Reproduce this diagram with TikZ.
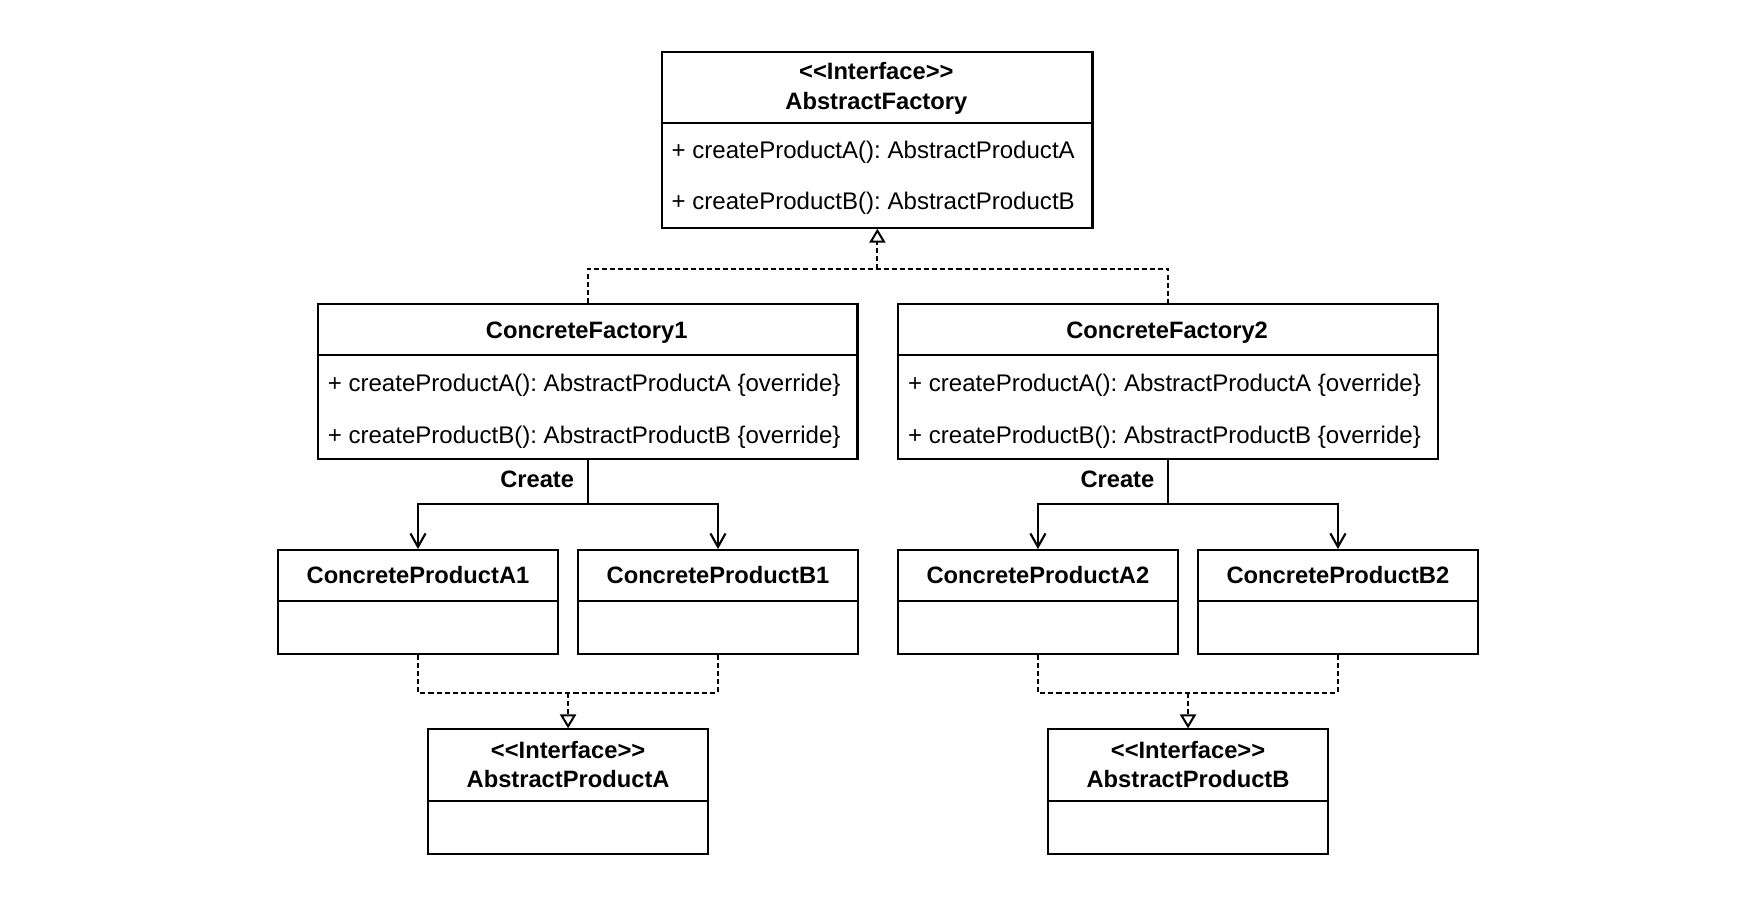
\documentclass[tikz,border=0pt]{standalone}
\usepackage{fontspec}
\newfontfamily\umlfont{Liberation Sans}
\usetikzlibrary{arrows.meta}
\begin{document}
\frenchspacing
\begin{tikzpicture}[x=1pt,y=-1pt,
  umlbox/.style={draw, line width=1.9pt, inner sep=0pt, anchor=north west, fill=white},
  sepline/.style={line width=1.9pt},
  txt/.style={font=\umlfont\fontsize{21.5}{26}\selectfont, inner sep=0pt},
  btxt/.style={txt, font=\umlfont\fontsize{21.2}{26}\selectfont\bfseries},
  methodtxt/.style={txt, anchor=base west},
  titletxt/.style={btxt, anchor=base},
  dashline/.style={line width=1.9pt, dash pattern=on 4.5pt off 2.7pt},
  assoc/.style={line width=1.9pt},
  realtip/.style={-{Triangle[open, length=12.5pt, width=14.5pt, line width=1.8pt]}},
  opentip/.style={-{Straight Barb[length=12pt, width=13.5pt, line width=1.9pt]}}
]
\useasboundingbox[fill=white] (0,0) rectangle (1568,808.1);

% ---------- AbstractFactory ----------
\node[umlbox, minimum width=384.6pt, minimum height=157.3pt] (af) at (591.1,45.3) {};
\draw[sepline] (af.west |- 0,110) -- (af.east |- 0,110);
\node[titletxt] (afs) at (783.4,71.5) {<<Interface>>};
\node[titletxt] (afn) at (783.4,97.7) {AbstractFactory};
\node[methodtxt] (afm1) at (600.3,141.5) {+ createProductA(): AbstractProductA};
\node[methodtxt] (afm2) at (600.3,187.7) {+ createProductB(): AbstractProductB};

% ---------- ConcreteFactory1 ----------
\node[umlbox, minimum width=482.2pt, minimum height=139.1pt] (cf1) at (283.4,270.6) {};
\draw[sepline] (cf1.west |- 0,317.1) -- (cf1.east |- 0,317.1);
\node[titletxt] (cf1n) at (524.5,302.5) {ConcreteFactory1};
\node[methodtxt] (cf1m1) at (292.9,350.2) {+ createProductA(): AbstractProductA \{override\}};
\node[methodtxt] (cf1m2) at (292.9,396.3) {+ createProductB(): AbstractProductB \{override\}};

% ---------- ConcreteFactory2 ----------
\node[umlbox, minimum width=482.2pt, minimum height=139.1pt] (cf2) at (802.2,270.6) {};
\draw[sepline] (cf2.west |- 0,317.1) -- (cf2.east |- 0,317.1);
\node[titletxt] (cf2n) at (1043.3,302.5) {ConcreteFactory2};
\node[methodtxt] (cf2m1) at (811.7,350.2) {+ createProductA(): AbstractProductA \{override\}};
\node[methodtxt] (cf2m2) at (811.7,396.3) {+ createProductB(): AbstractProductB \{override\}};

% ---------- Concrete products ----------
\node[umlbox, minimum width=250.4pt, minimum height=92.7pt] (cpa1) at (247.5,490.8) {};
\draw[sepline] (cpa1.west |- 0,537) -- (cpa1.east |- 0,537);
\node[titletxt] (cpa1n) at (cpa1.center |- 0,521.5) {ConcreteProductA1};

\node[umlbox, minimum width=250.4pt, minimum height=92.7pt] (cpb1) at (515.7,490.8) {};
\draw[sepline] (cpb1.west |- 0,537) -- (cpb1.east |- 0,537);
\node[titletxt] (cpb1n) at (cpb1.center |- 0,521.5) {ConcreteProductB1};

\node[umlbox, minimum width=250.4pt, minimum height=92.7pt] (cpa2) at (801.7,490.8) {};
\draw[sepline] (cpa2.west |- 0,537) -- (cpa2.east |- 0,537);
\node[titletxt] (cpa2n) at (cpa2.center |- 0,521.5) {ConcreteProductA2};

\node[umlbox, minimum width=250.4pt, minimum height=92.7pt] (cpb2) at (1069.9,490.8) {};
\draw[sepline] (cpb2.west |- 0,537) -- (cpb2.east |- 0,537);
\node[titletxt] (cpb2n) at (cpb2.center |- 0,521.5) {ConcreteProductB2};

% ---------- Abstract products ----------
\node[umlbox, minimum width=250.8pt, minimum height=111.2pt] (apa) at (381.5,651.1) {};
\draw[sepline] (apa.west |- 0,715.8) -- (apa.east |- 0,715.8);
\node[titletxt] (apas) at (apa.center |- 0,677.9) {<<Interface>>};
\node[titletxt] (apan) at (apa.center |- 0,703.9) {AbstractProductA};

\node[umlbox, minimum width=250.8pt, minimum height=111.2pt] (apb) at (935.7,651.1) {};
\draw[sepline] (apb.west |- 0,715.8) -- (apb.east |- 0,715.8);
\node[titletxt] (apbs) at (apb.center |- 0,677.9) {<<Interface>>};
\node[titletxt] (apbn) at (apb.center |- 0,703.9) {AbstractProductB};

% ---------- Realization: factories -> AbstractFactory ----------
\coordinate (jaf) at (af.south |- 0,240.2);
\draw[dashline] (cf1.north) |- (jaf) -| (cf2.north);
\draw[dashline, realtip] (jaf) -- (af.south);

% ---------- Create associations ----------
\coordinate (jc1) at (cf1.south |- 0,450.9);
\draw[assoc] (cf1.south) -- (jc1);
\draw[assoc, opentip] (jc1) -| (cpa1.north);
\draw[assoc, opentip] (jc1) -| (cpb1.north);
\node[titletxt, anchor=base east] (create1) at (513.4,435.7) {Create};

\coordinate (jc2) at (cf2.south |- 0,450.9);
\draw[assoc] (cf2.south) -- (jc2);
\draw[assoc, opentip] (jc2) -| (cpa2.north);
\draw[assoc, opentip] (jc2) -| (cpb2.north);
\node[titletxt, anchor=base east] (create2) at (1032.1,435.7) {Create};

% ---------- Realization: products -> abstract products ----------
\coordinate (ja) at (apa.north |- 0,619.2);
\draw[dashline] (cpa1.south) |- (ja) -| (cpb1.south);
\draw[dashline, realtip] (ja) -- (apa.north);

\coordinate (jb) at (apb.north |- 0,619.2);
\draw[dashline] (cpa2.south) |- (jb) -| (cpb2.south);
\draw[dashline, realtip] (jb) -- (apb.north);
\end{tikzpicture}
\end{document}
